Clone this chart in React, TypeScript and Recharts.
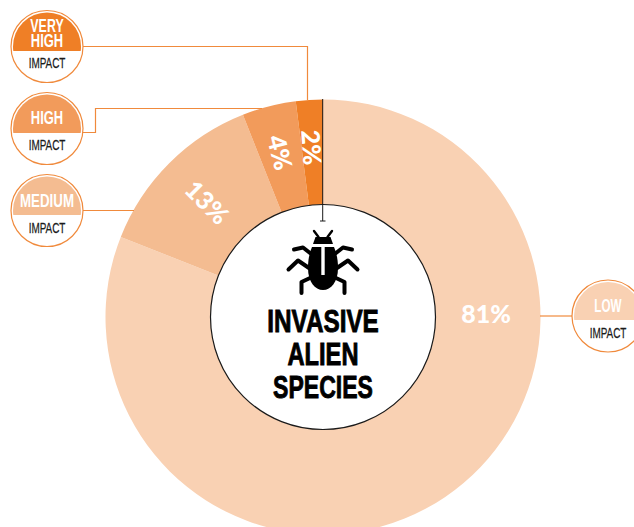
import React from 'react';
import { PieChart, Pie, Cell } from 'recharts';

const impactLevels = ['Low', 'Medium', 'High', 'Very high'];
const shares = [81, 13, 4, 2];
const sliceColors = ['#F9D1B3', '#F4BC91', '#F29B5B', '#EF7F26'];
const rows = impactLevels.map((name, i) => ({ name, value: shares[i] }));

const sans = '"Liberation Sans", Arial, sans-serif';
const leaderColor = '#F08A3C';

const CX = 323;
const CY = 317;

const RAD = Math.PI / 180;

// the big low-impact slice keeps its label level at 3 o'clock instead of on its mid angle
const renderShare = (p: any) => {
  const isLow = p.index === 0;
  const angle = isLow ? 0 : p.midAngle;
  const r = isLow ? 163 : p.index === 1 ? 163 : 170;
  const x = p.cx + r * Math.cos(angle * RAD);
  const y = p.cy - r * Math.sin(angle * RAD) - (isLow ? 4 : 0);
  const rotate = isLow ? 0 : 180 - p.midAngle;
  return (
    <text
      x={x}
      y={y}
      fill="#fff"
      textAnchor="middle"
      dominantBaseline="central"
      fontFamily="Lato, sans-serif"
      fontWeight={900}
      fontSize={25}
      transform={`rotate(${rotate} ${x} ${y})`}
    >
      {p.value}%
    </text>
  );
};

// squeezed sans, there is no condensed face on the page
const Narrow = ({ x, y, squeeze, children, ...rest }: any) => (
  <text transform={`translate(${x} ${y}) scale(${squeeze} 1)`} textAnchor="middle" fontFamily={sans} {...rest}>
    {children}
  </text>
);

const Badge = ({ cx, cy, chord, color, lines, impactY }: any) => {
  const id = `cap-${Math.round(cx + cy)}`;
  return (
    <g>
      <clipPath id={id}>
        <rect x={cx - 40} y={cy - 40} width={80} height={chord - cy + 40} />
      </clipPath>
      <circle cx={cx} cy={cy} r={36} fill="#fff" stroke={leaderColor} strokeWidth={1.2} />
      <circle cx={cx} cy={cy} r={34} fill={color} clipPath={`url(#${id})`} />
      {lines.map((l: any) => (
        <Narrow key={l.text} x={cx} y={l.y} squeeze={l.squeeze} fill="#fff" fontWeight={700} fontSize={18}>
          {l.text}
        </Narrow>
      ))}
      <Narrow x={cx} y={impactY} squeeze={0.64} fill="#1a1a1a" fontSize={15.5} stroke="#1a1a1a" strokeWidth={0.25}>
        IMPACT
      </Narrow>
    </g>
  );
};

const Bug = () => (
  <g>
    {/* head and antennae */}
    <path d="M315.5 237 H330.5 L333 244 H313 Z" fill="#000" />
    <path d="M314 231 L318.5 237 M332 231 L327.5 237" stroke="#000" strokeWidth={2.4} strokeLinecap="round" />
    {/* shell with its centre seam */}
    <path d="M312 247 H334 C337 254 338 261 338 268 C338 282 331 290 323 290 C315 290 308 282 308 268 C308 261 309 254 312 247 Z" fill="#000" />
    <path d="M323 247 V275" stroke="#fff" strokeWidth={3.4} />
    {/* legs */}
    <g fill="none" stroke="#000" strokeWidth={4} strokeLinecap="round" strokeLinejoin="round">
      <path d="M310 253 L303 247.5 L294 249.5" />
      <path d="M336 253 L343 247.5 L352 249.5" />
      <path d="M309 268 L298 260.5 L288.5 269.5" />
      <path d="M337 268 L348 260.5 L357.5 269.5" />
      <path d="M310 278 L301.5 282 L301.5 293" />
      <path d="M336 278 L344.5 282 L344.5 293" />
    </g>
  </g>
);

export default function App() {
  return (
    <div style={{ position: 'absolute', left: 0, top: 0, width: 634, height: 527, overflow: 'hidden', background: '#fff' }}>
      <PieChart width={634} height={527} margin={{ top: 0, right: 0, bottom: 0, left: 0 }}>
        <Pie
          data={rows}
          dataKey="value"
          cx={CX}
          cy={CY}
          innerRadius={112}
          outerRadius={217.5}
          startAngle={90}
          endAngle={-270}
          stroke="none"
          label={renderShare}
          labelLine={false}
          isAnimationActive={false}
        >
          {rows.map((r, i) => (
            <Cell key={r.name} fill={sliceColors[i]} />
          ))}
        </Pie>
      </PieChart>

      <svg width={634} height={527} style={{ position: 'absolute', left: 0, top: 0 }}>
        {/* leader lines from the badges to the ring */}
        <g fill="none" stroke={leaderColor} strokeWidth={1.2}>
          <path d="M82 46.5 H307.5 V100" />
          <path d="M82 132.5 H95.5 V108.5 H262" />
          <path d="M82 210.5 H134" />
          <path d="M540 316 H572" />
        </g>

        <circle cx={CX} cy={CY} r={112.5} fill="#fff" stroke="#1a1a1a" strokeWidth={1.2} />
        <path d="M322.7 99 V221 M320 221 H325.5" stroke="#1a1a1a" strokeWidth={1} fill="none" />

        <Bug />

        <g fontWeight={700} fontSize={32} fill="#000" stroke="#000" strokeWidth={0.9}>
          <Narrow x={323} y={332} squeeze={0.76}>INVASIVE</Narrow>
          <Narrow x={323} y={365} squeeze={0.74}>ALIEN</Narrow>
          <Narrow x={323} y={398} squeeze={0.72}>SPECIES</Narrow>
        </g>

        <Badge cx={47} cy={46.5} chord={51} color="#EF7F26" impactY={68} lines={[{ text: 'VERY', y: 32, squeeze: 0.69 }, { text: 'HIGH', y: 46.5, squeeze: 0.72 }]} />
        <Badge cx={47} cy={128.5} chord={133} color="#F29B5B" impactY={150} lines={[{ text: 'HIGH', y: 124, squeeze: 0.72 }]} />
        <Badge cx={47} cy={210.5} chord={215} color="#F4BC91" impactY={232.5} lines={[{ text: 'MEDIUM', y: 207, squeeze: 0.74 }]} />
        <Badge cx={608} cy={316} chord={320} color="#F9D1B3" impactY={338} lines={[{ text: 'LOW', y: 312, squeeze: 0.65 }]} />
      </svg>
    </div>
  );
}
